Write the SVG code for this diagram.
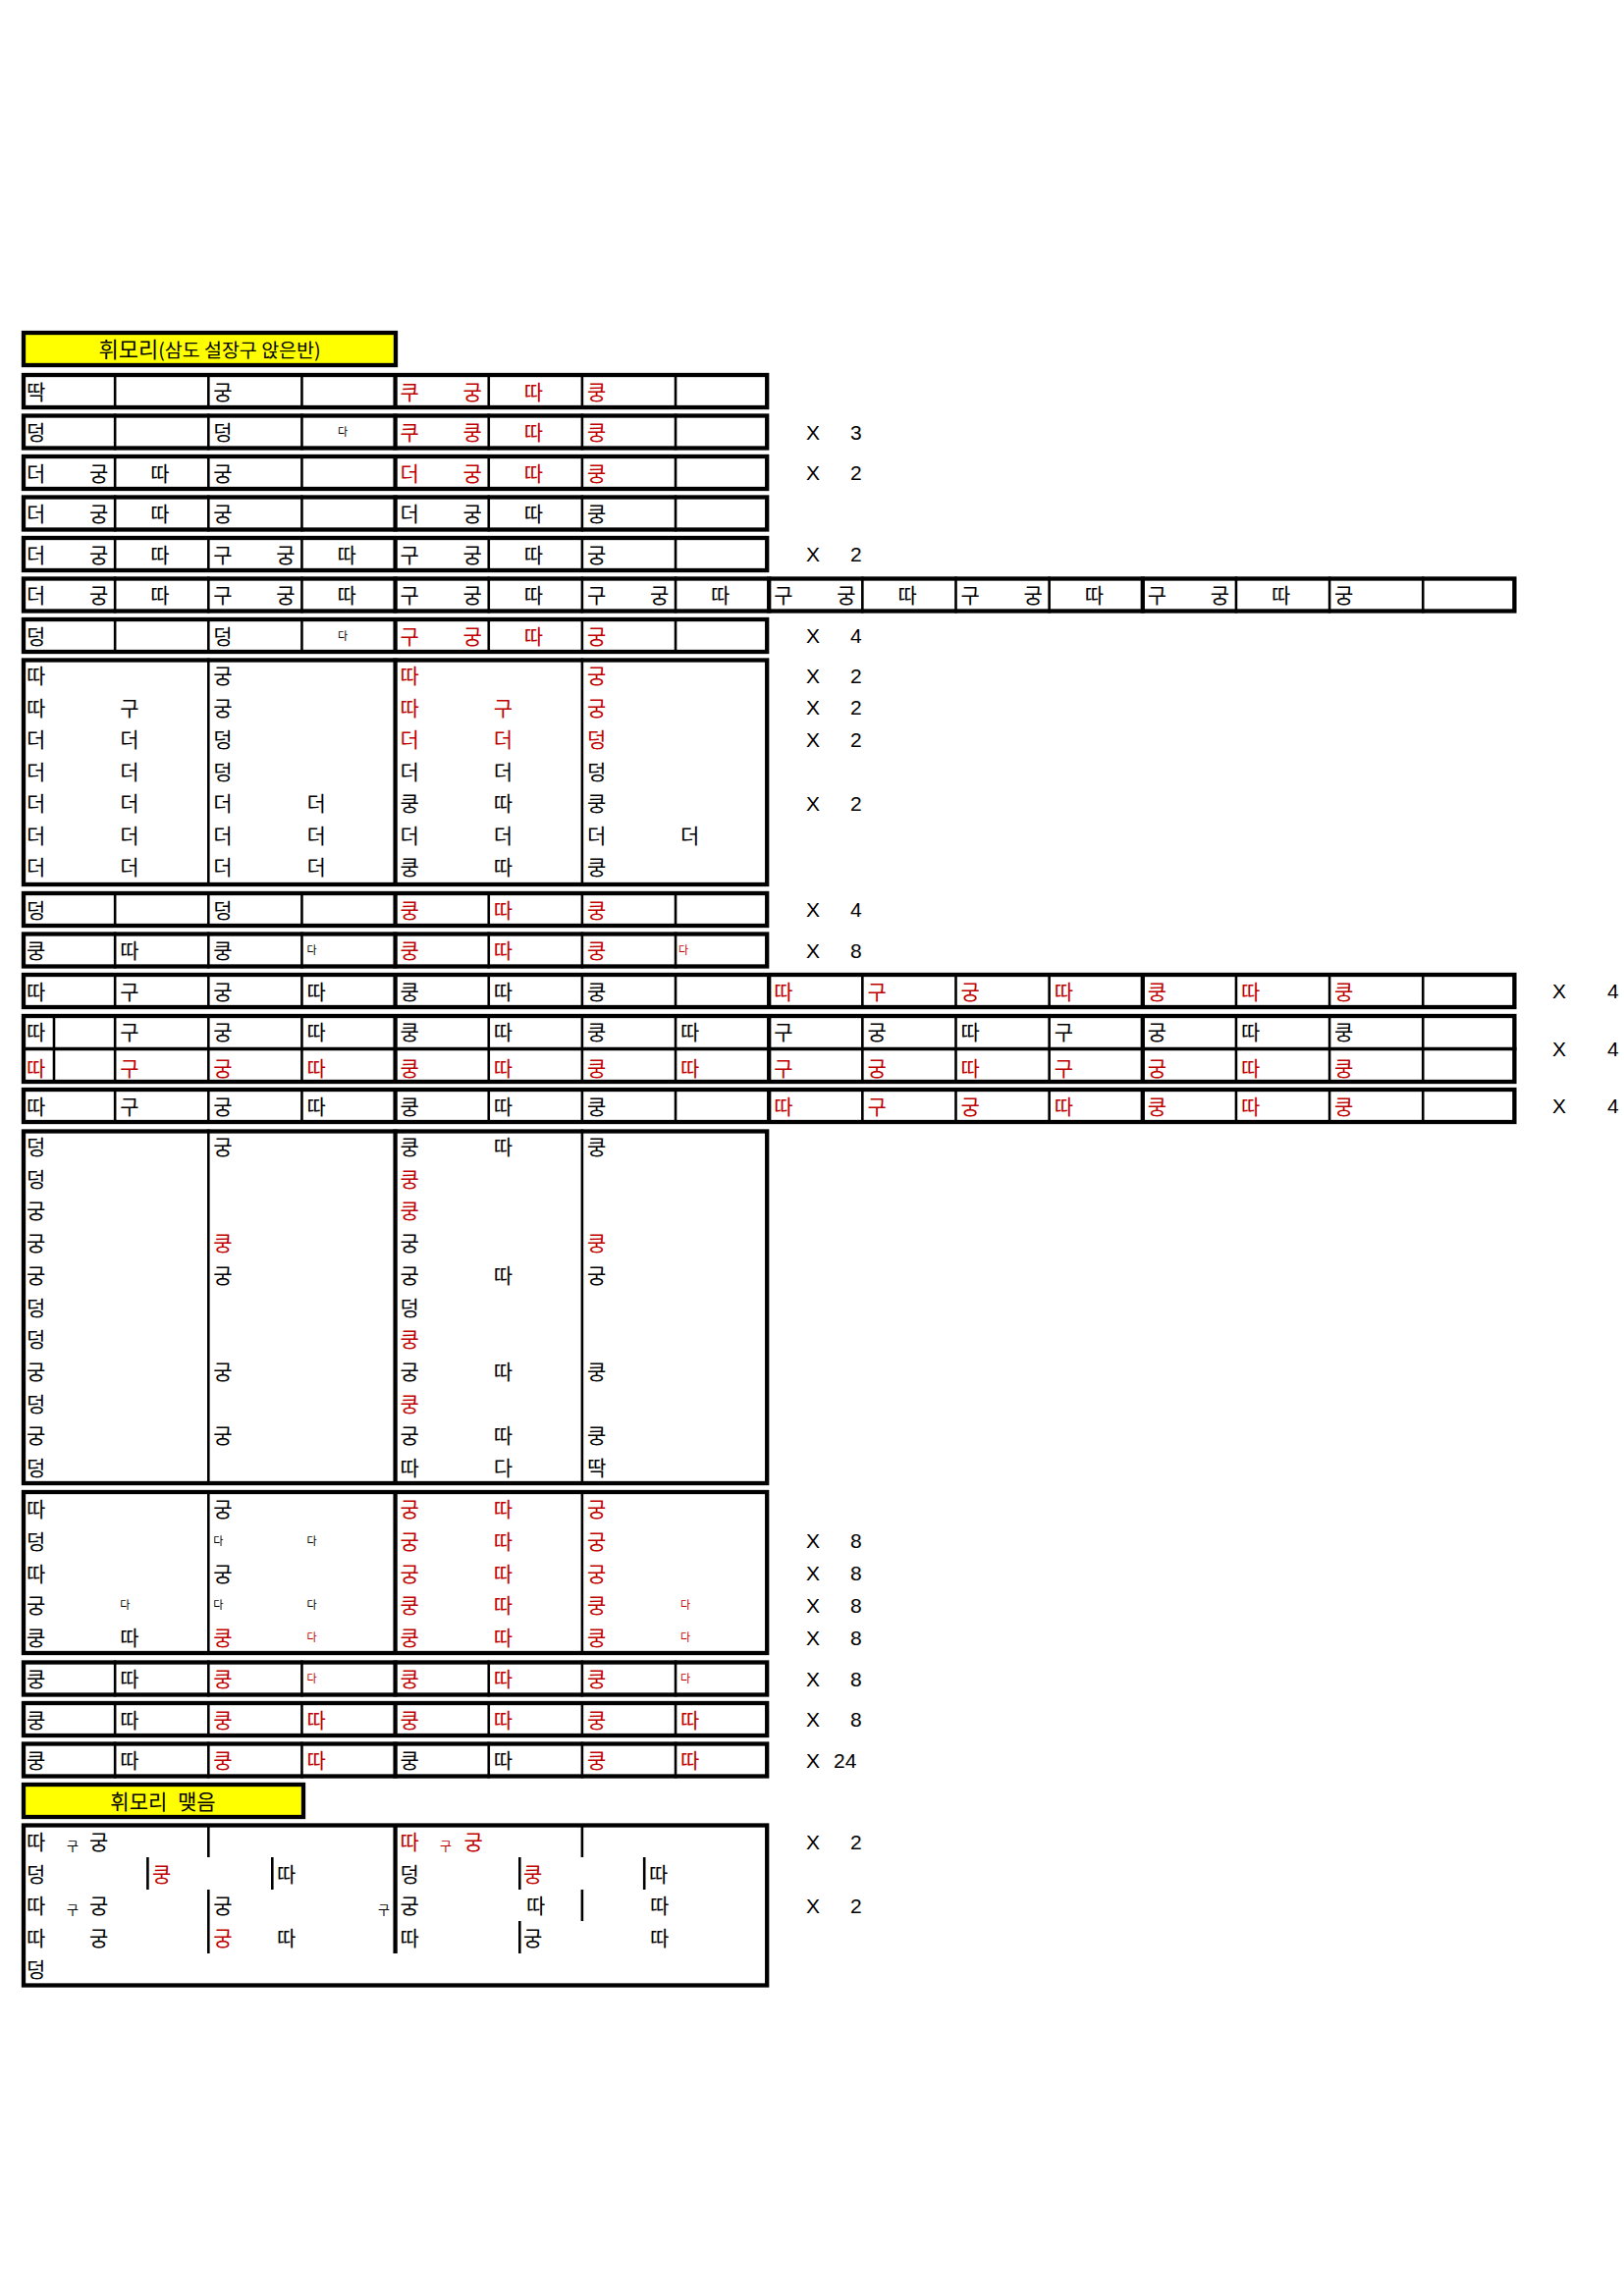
<svg xmlns="http://www.w3.org/2000/svg" width="1654" height="2339" viewBox="0 0 1654 2339">
<style>
.t{font-family:"Noto Sans CJK KR","Noto Sans",sans-serif;font-size:21px;fill:#000}
.r{fill:#C00000}
.s{font-size:11px}
.k{font-size:13px}
.x{font-family:"Liberation Sans",Arial,sans-serif;font-size:21px;fill:#000}
.box{fill:#fff;stroke:#000;stroke-width:4.3}
.hd{fill:#FFFF00;stroke:#000;stroke-width:4.3}
.ln{stroke:#000;stroke-width:2.6;fill:none}
.lk{stroke:#000;stroke-width:4.3;fill:none}
</style>
<defs>
<g id="g8">
<rect class="box" x="24" y="2" width="757.2" height="33"/>
<path class="ln" d="M117.15 0V37M212.3 0V37M307.45 0V37M497.75 0V37M592.9 0V37M688.05 0V37"/>
<path class="lk" d="M402.6 0V37"/>
</g>
<g id="g16">
<rect class="box" x="24" y="2" width="1518.4" height="33"/>
<path class="ln" d="M117.15 0V37M212.3 0V37M307.45 0V37M497.75 0V37M592.9 0V37M688.05 0V37M878.35 0V37M973.5 0V37M1068.65 0V37M1258.95 0V37M1354.1 0V37M1449.25 0V37"/>
<path class="lk" d="M402.6 0V37M783.2 0V37M1163.8 0V37"/>
</g>
</defs>
<rect width="1654" height="2339" fill="#fff"/>

<g id="header1">
<rect class="hd" x="24" y="339" width="379" height="33"/>
<text class="t" x="213.5" y="363.5" text-anchor="middle"><tspan font-size="22">휘모리</tspan><tspan font-size="19.5">(삼도 설장구 앉은반)</tspan></text>
</g>

<g id="row1">
<use href="#g8" y="380"/>
<text class="t" x="27 217.3" y="406.5">딱궁</text>
<text class="t r" x="407.6 471.6 533.8 597.9" y="406.5">쿠궁따쿵</text>
</g>

<g id="row2">
<use href="#g8" y="421.5"/>
<text class="t" x="27 217.3" y="448">덩덩</text>
<text class="t s" x="344" y="444">다</text>
<text class="t r" x="407.6 471.6 533.8 597.9" y="448">쿠쿵따쿵</text>
<text class="x" x="821 866" y="447.5">X3</text>
</g>

<g id="row3">
<use href="#g8" y="463"/>
<text class="t" x="27 91 153.2 217.3" y="489.5">더궁따궁</text>
<text class="t r" x="407.6 471.6 533.8 597.9" y="489.5">더궁따쿵</text>
<text class="x" x="821 866" y="489">X2</text>
</g>

<g id="row4">
<use href="#g8" y="504.5"/>
<text class="t" x="27 91 153.2 217.3 407.6 471.6 533.8 597.9" y="531">더궁따궁더궁따쿵</text>
</g>

<g id="row5">
<use href="#g8" y="546"/>
<text class="t" x="27 91 153.2 217.3 281.3 343.5 407.6 471.6 533.8 597.9" y="572.5">더궁따구궁따구궁따궁</text>
<text class="x" x="821 866" y="572">X2</text>
</g>

<g id="row6">
<use href="#g16" y="587.5"/>
<text class="t" x="27 91 153.2 217.3 281.3 343.5 407.6 471.6 533.8 597.9 661.9 724.1 788.2 852.2 914.4 978.5 1042.5 1104.7 1168.8 1232.8 1295 1359.1" y="614">더궁따구궁따구궁따구궁따구궁따구궁따구궁따궁</text>
</g>

<g id="row7">
<use href="#g8" y="629"/>
<text class="t" x="27 217.3" y="655.5">덩덩</text>
<text class="t s" x="344" y="651.5">다</text>
<text class="t r" x="407.6 471.6 533.8 597.9" y="655.5">구궁따궁</text>
<text class="x" x="821 866" y="655">X4</text>
</g>

<g id="block8">
<rect class="box" x="24" y="672.5" width="757.2" height="228.5"/>
<path class="ln" d="M212.3 670.5V903M592.9 670.5V903"/>
<path class="lk" d="M402.6 670.5V903"/>
<text class="t" x="27 217.3" y="696">따궁</text>
<text class="t r" x="407.6 597.9" y="696">따궁</text>
<text class="t" x="27 122.2 217.3" y="728.5">따구궁</text>
<text class="t r" x="407.6 502.8 597.9" y="728.5">따구궁</text>
<text class="t" x="27 122.2 217.3" y="761">더더덩</text>
<text class="t r" x="407.6 502.8 597.9" y="761">더더덩</text>
<text class="t" x="27 122.2 217.3 407.6 502.8 597.9" y="793.5">더더덩더더덩</text>
<text class="t" x="27 122.2 217.3 312.5 407.6 502.8 597.9" y="826">더더더더쿵따쿵</text>
<text class="t" x="27 122.2 217.3 312.5 407.6 502.8 597.9 693.1" y="858.5">더더더더더더더더</text>
<text class="t" x="27 122.2 217.3 312.5 407.6 502.8 597.9" y="891">더더더더쿵따쿵</text>
<text class="x" x="821 866" y="695.5">X2</text>
<text class="x" x="821 866" y="728">X2</text>
<text class="x" x="821 866" y="760.5">X2</text>
<text class="x" x="821 866" y="825.5">X2</text>
</g>

<g id="row9">
<use href="#g8" y="908"/>
<text class="t" x="27 217.3" y="934.5">덩덩</text>
<text class="t r" x="407.6 502.8 597.9" y="934.5">쿵따쿵</text>
<text class="x" x="821 866" y="934">X4</text>
</g>

<g id="row10">
<use href="#g8" y="949.5"/>
<text class="t" x="27 122.2 217.3" y="976">쿵따쿵</text>
<text class="t s" x="312.5" y="972">다</text>
<text class="t r" x="407.6 502.8 597.9" y="976">쿵따쿵</text>
<text class="t s r" x="691" y="972">다</text>
<text class="x" x="821 866" y="975.5">X8</text>
</g>

<g id="row11">
<use href="#g16" y="991"/>
<text class="t" x="27 122.2 217.3 312.5 407.6 502.8 597.9" y="1017.5">따구궁따쿵따쿵</text>
<text class="t r" x="788.2 883.4 978.5 1073.7 1168.8 1264 1359.1" y="1017.5">따구궁따쿵따쿵</text>
<text class="x" x="1581 1637" y="1017">X4</text>
</g>

<g id="row12">
<rect class="box" x="24" y="1035" width="1518.4" height="67"/>
<path class="ln" d="M117.15 1033V1104M212.3 1033V1104M307.45 1033V1104M497.75 1033V1104M592.9 1033V1104M688.05 1033V1104M878.35 1033V1104M973.5 1033V1104M1068.65 1033V1104M1258.95 1033V1104M1354.1 1033V1104M1449.25 1033V1104M55 1033V1104"/>
<path class="lk" d="M402.6 1033V1104M783.2 1033V1104M1163.8 1033V1104"/>
<path stroke="#000" stroke-width="3.5" d="M22 1068.5H1544.4"/>
<text class="t" x="27 122.2 217.3 312.5 407.6 502.8 597.9 693.1 788.2 883.4 978.5 1073.7 1168.8 1264 1359.1" y="1059">따구궁따쿵따쿵따구궁따구궁따쿵</text>
<text class="t r" x="27 122.2 217.3 312.5 407.6 502.8 597.9 693.1 788.2 883.4 978.5 1073.7 1168.8 1264 1359.1" y="1096">따구궁따쿵따쿵따구궁따구궁따쿵</text>
<text class="x" x="1581 1637" y="1076">X4</text>
</g>

<g id="row13">
<use href="#g16" y="1108"/>
<text class="t" x="27 122.2 217.3 312.5 407.6 502.8 597.9" y="1134.5">따구궁따쿵따쿵</text>
<text class="t r" x="788.2 883.4 978.5 1073.7 1168.8 1264 1359.1" y="1134.5">따구궁따쿵따쿵</text>
<text class="x" x="1581 1637" y="1134">X4</text>
</g>

<g id="block14">
<rect class="box" x="24" y="1152.5" width="757.2" height="358.5"/>
<path class="ln" d="M212.3 1150.5V1513M592.9 1150.5V1513"/>
<path class="lk" d="M402.6 1150.5V1513"/>
<text class="t" x="27 217.3 407.6 502.8 597.9" y="1176">덩궁쿵따쿵</text>
<text class="t" x="27" y="1208.7">덩</text>
<text class="t r" x="407.6" y="1208.7">쿵</text>
<text class="t" x="27" y="1241.4">궁</text>
<text class="t r" x="407.6" y="1241.4">쿵</text>
<text class="t" x="27" y="1274.1">궁</text>
<text class="t r" x="217.3" y="1274.1">쿵</text>
<text class="t" x="407.6" y="1274.1">궁</text>
<text class="t r" x="597.9" y="1274.1">쿵</text>
<text class="t" x="27 217.3 407.6 502.8 597.9" y="1306.8">궁궁궁따궁</text>
<text class="t" x="27 407.6" y="1339.5">덩덩</text>
<text class="t" x="27" y="1372.2">덩</text>
<text class="t r" x="407.6" y="1372.2">쿵</text>
<text class="t" x="27 217.3 407.6 502.8 597.9" y="1404.9">궁궁궁따쿵</text>
<text class="t" x="27" y="1437.6">덩</text>
<text class="t r" x="407.6" y="1437.6">쿵</text>
<text class="t" x="27 217.3 407.6 502.8 597.9" y="1470.3">궁궁궁따쿵</text>
<text class="t" x="27 407.6 502.8 597.9" y="1503">덩따다딱</text>
</g>

<g id="block15">
<rect class="box" x="24" y="1520" width="757.2" height="164"/>
<path class="ln" d="M212.3 1518V1686M592.9 1518V1686"/>
<path class="lk" d="M402.6 1518V1686"/>
<text class="t" x="27 217.3" y="1545">따궁</text>
<text class="t r" x="407.6 502.8 597.9" y="1545">궁따궁</text>
<text class="t" x="27" y="1577.75">덩</text>
<text class="t s" x="217.3 312.5" y="1573.75">다다</text>
<text class="t r" x="407.6 502.8 597.9" y="1577.75">궁따궁</text>
<text class="t" x="27 217.3" y="1610.5">따궁</text>
<text class="t r" x="407.6 502.8 597.9" y="1610.5">궁따궁</text>
<text class="t" x="27" y="1643.25">궁</text>
<text class="t s" x="122.2 217.3 312.5" y="1639.25">다다다</text>
<text class="t r" x="407.6 502.8 597.9" y="1643.25">쿵따쿵</text>
<text class="t s r" x="693.1" y="1639.25">다</text>
<text class="t" x="27 122.2" y="1676">쿵따</text>
<text class="t r" x="217.3" y="1676">쿵</text>
<text class="t s r" x="312.5" y="1672">다</text>
<text class="t r" x="407.6 502.8 597.9" y="1676">쿵따쿵</text>
<text class="t s r" x="693.1" y="1672">다</text>
<text class="x" x="821 866" y="1577.25">X8</text>
<text class="x" x="821 866" y="1610">X8</text>
<text class="x" x="821 866" y="1642.75">X8</text>
<text class="x" x="821 866" y="1675.5">X8</text>
</g>

<g id="row16">
<use href="#g8" y="1691.5"/>
<text class="t" x="27 122.2" y="1718">쿵따</text>
<text class="t r" x="217.3" y="1718">쿵</text>
<text class="t s r" x="312.5" y="1714">다</text>
<text class="t r" x="407.6 502.8 597.9" y="1718">쿵따쿵</text>
<text class="t s r" x="693.1" y="1714">다</text>
<text class="x" x="821 866" y="1717.5">X8</text>
</g>

<g id="row17">
<use href="#g8" y="1733"/>
<text class="t" x="27 122.2" y="1759.5">쿵따</text>
<text class="t r" x="217.3 312.5 407.6 502.8 597.9 693.1" y="1759.5">쿵따쿵따쿵따</text>
<text class="x" x="821 866" y="1759">X8</text>
</g>

<g id="row18">
<use href="#g8" y="1774.5"/>
<text class="t" x="27 122.2" y="1801">쿵따</text>
<text class="t r" x="217.3 312.5" y="1801">쿵따</text>
<text class="t" x="407.6 502.8" y="1801">쿵따</text>
<text class="t r" x="597.9 693.1" y="1801">쿵따</text>
<text class="x" x="821 849" y="1800.5">X24</text>
</g>

<g id="header2">
<rect class="hd" x="24" y="1818" width="285" height="33"/>
<text class="t" x="166" y="1842.5" font-size="22" word-spacing="6" text-anchor="middle">휘모리 맺음</text>
</g>

<g id="block19">
<rect class="box" x="24" y="1859.5" width="757.2" height="163"/>
<path class="ln" d="M212.3 1859V1892M212.3 1925V1990M592.9 1859V1892M592.9 1925V1957M150.4 1892V1925M277.3 1892V1925M529.3 1892V1925M529.3 1957V1990M656.2 1892V1925"/>
<path class="lk" d="M402.6 1859V1990"/>
<text class="t" x="27" y="1884">따</text>
<text class="t k" x="68" y="1885">구</text>
<text class="t" x="91" y="1884">궁</text>
<text class="t r" x="407.6" y="1884">따</text>
<text class="t k r" x="448" y="1885">구</text>
<text class="t r" x="472.5" y="1884">궁</text>
<text class="t" x="27" y="1916.5">덩</text>
<text class="t r" x="155" y="1916.5">쿵</text>
<text class="t" x="282 407.6" y="1916.5">따덩</text>
<text class="t r" x="533" y="1916.5">쿵</text>
<text class="t" x="661" y="1916.5">따</text>
<text class="t" x="27" y="1949">따</text>
<text class="t k" x="68" y="1950">구</text>
<text class="t" x="91 217.3" y="1949">궁궁</text>
<text class="t k" x="385" y="1950">구</text>
<text class="t" x="407.6 536 662" y="1949">궁따따</text>
<text class="t" x="27 91" y="1981.5">따궁</text>
<text class="t r" x="217.3" y="1981.5">궁</text>
<text class="t" x="282 407.6 533 662" y="1981.5">따따궁따</text>
<text class="t" x="27" y="2014">덩</text>
<text class="x" x="821 866" y="1883.5">X2</text>
<text class="x" x="821 866" y="1948.5">X2</text>
</g>
</svg>
